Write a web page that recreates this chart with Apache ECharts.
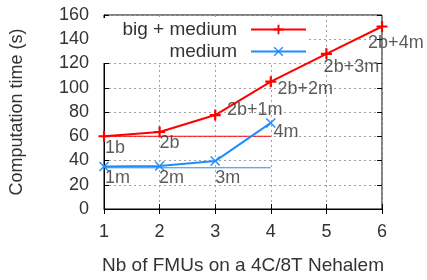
<!DOCTYPE html>
<html>
<head>
<meta charset="utf-8">
<script src="https://cdn.jsdelivr.net/npm/echarts@6/dist/echarts.min.js"></script>
<style>
html, body { margin: 0; padding: 0; background: #fff; }
#chart { width: 427px; height: 280px; }
</style>
</head>
<body>
<div id="chart"></div>
<script>
var bigX = [1, 2, 3, 4, 5, 6];
var bigY = [60, 63.5, 77.5, 105, 128, 150.5];
var medX = [1, 2, 3, 4];
var medY = [35, 35.5, 39.5, 71];
// reference levels (single FMU time), drawn from 1 to 4
var bigRef = [60, 60];
var medRef = [34, 34];
var refX = [1, 4];
var bigLabels = ['1b', '2b', '2b+1m', '2b+2m', '2b+3m', '2b+4m'];
var bigLabelX = [1.02, 2.0, 3.21, 4.12, 4.95, 5.75];
var bigLabelY = [50, 54.5, 81.5, 99, 117, 137];
var medLabels = ['1m', '2m', '3m', '4m'];
var medLabelX = [1.02, 1.99, 3.0, 4.05];
var medLabelY = [25.3, 25.3, 25.3, 63.7];

var RED = '#ff0000';
var BLUE = '#1e8cff';
var FONT = 'Liberation Sans';
var TXT = '#333';
var plusPath = 'path://M4,0H6V4H10V6H6V10H4V6H0V4H4Z';
var crossPath = 'path://M1,0L5,4L9,0L10,1L6,5L10,9L9,10L5,6L1,10L0,9L4,5L0,1Z';

function zip(xs, ys) {
  return xs.map(function (x, i) { return [x, ys[i]]; });
}
function labelData(xs, ys, names) {
  return xs.map(function (x, i) { return { name: names[i], value: [x, ys[i]] }; });
}

var chart = echarts.init(document.getElementById('chart'));
var legendText = { color: TXT, fontFamily: FONT, fontSize: 19, padding: [0, 9, 0, 0] };
var labelStyle = { show: true, position: 'right', distance: 0, formatter: '{b}', color: TXT, fontFamily: FONT, fontSize: 18 };

var option = {
  backgroundColor: '#fff',
  animation: false,
  grid: {
    left: 102, right: 45, top: 15, bottom: 71,
    show: true, borderColor: '#000', borderWidth: 1
  },
  legend: [{
    data: ['big + medium'],
    right: 118, top: 18,
    align: 'right',
    itemWidth: 55, itemHeight: 12,
    padding: [2, 2, 2, 30],
    backgroundColor: '#fff',
    textStyle: legendText
  }, {
    data: ['medium'],
    right: 118, top: 40,
    align: 'right',
    itemWidth: 55, itemHeight: 12,
    padding: [2, 2, 2, 80],
    backgroundColor: '#fff',
    textStyle: legendText
  }],
  xAxis: [{
    type: 'value', min: 1, max: 6, interval: 1,
    name: 'Nb of FMUs on a 4C/8T Nehalem',
    nameLocation: 'middle', nameGap: 47,
    nameTextStyle: { color: TXT, fontFamily: FONT, fontSize: 19 },
    axisLine: { lineStyle: { color: '#000' } },
    axisTick: { inside: true, length: 5, lineStyle: { color: '#000' } },
    axisLabel: { color: TXT, fontFamily: FONT, fontSize: 18, margin: 14 },
    splitLine: { lineStyle: { color: '#a0a0a0', type: [2, 3] } }
  }, {
    type: 'value', min: 1, max: 6, interval: 1, position: 'top',
    axisLine: { show: false },
    axisTick: { inside: true, length: 5, lineStyle: { color: '#000' } },
    axisLabel: { show: false },
    splitLine: { show: false }
  }],
  yAxis: [{
    type: 'value', min: 0, max: 160, interval: 20,
    name: 'Computation time (s)',
    nameLocation: 'middle', nameGap: 78,
    nameTextStyle: { color: TXT, fontFamily: FONT, fontSize: 18 },
    axisLine: { show: true, lineStyle: { color: '#000' } },
    axisTick: { show: true, inside: true, length: 5, lineStyle: { color: '#000' } },
    axisLabel: { color: TXT, fontFamily: FONT, fontSize: 18, margin: 15 },
    splitLine: { lineStyle: { color: '#a0a0a0', type: [2, 3] } }
  }, {
    type: 'value', min: 0, max: 160, interval: 20, position: 'right',
    axisLine: { show: false },
    axisTick: { show: true, inside: true, length: 5, lineStyle: { color: '#000' } },
    axisLabel: { show: false },
    splitLine: { show: false }
  }],
  series: [{
    name: 'big + medium',
    type: 'line',
    data: zip(bigX, bigY),
    symbol: plusPath, symbolSize: 11,
    lineStyle: { color: RED, width: 2 },
    itemStyle: { color: RED },
    z: 5
  }, {
    name: 'medium',
    type: 'line',
    data: zip(medX, medY),
    symbol: crossPath, symbolSize: 10,
    lineStyle: { color: BLUE, width: 2 },
    itemStyle: { color: BLUE },
    z: 5
  }, {
    name: 'big ref',
    type: 'line',
    data: zip(refX, bigRef),
    symbol: 'none',
    lineStyle: { color: RED, width: 1 },
    z: 3
  }, {
    name: 'medium ref',
    type: 'line',
    data: zip(refX, medRef),
    symbol: 'none',
    lineStyle: { color: BLUE, width: 1 },
    z: 3
  }, {
    type: 'scatter',
    data: labelData(bigLabelX, bigLabelY, bigLabels),
    symbolSize: 0,
    label: labelStyle,
    z: 6
  }, {
    type: 'scatter',
    data: labelData(medLabelX, medLabelY, medLabels),
    symbolSize: 0,
    label: labelStyle,
    z: 6
  }]
};
chart.setOption(option);
</script>
</body>
</html>
